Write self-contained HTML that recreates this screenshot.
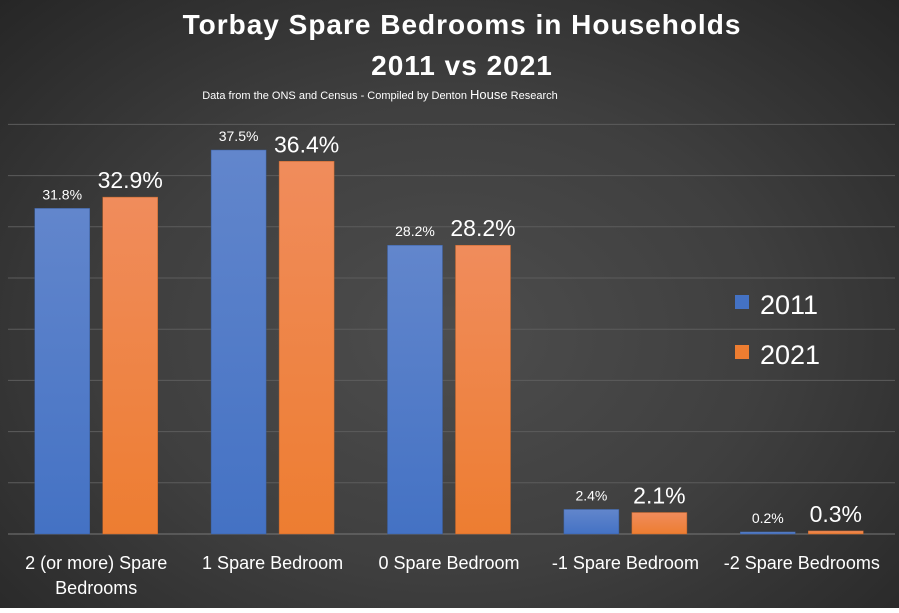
<!DOCTYPE html>
<html><head><meta charset="utf-8"><style>
body{margin:0;width:899px;height:608px;overflow:hidden;font-family:"Liberation Sans",sans-serif;}
#wrap{position:relative;width:899px;height:608px;background:radial-gradient(ellipse at 50% 55%,#4d4d4d 0%,#3f3f3f 50%,#262626 100%);}
</style></head><body>
<div id="wrap">
<svg id="chart" width="899" height="608">
<defs>
<linearGradient id="gb" x1="0" y1="0" x2="0" y2="1"><stop offset="0" stop-color="#6286cc"/><stop offset="1" stop-color="#4472c4"/></linearGradient>
<linearGradient id="go" x1="0" y1="0" x2="0" y2="1"><stop offset="0" stop-color="#f08c5c"/><stop offset="1" stop-color="#ed7d31"/></linearGradient>
</defs>
<text x="462" y="34" text-anchor="middle" fill="#fff" font-size="28" font-weight="bold" letter-spacing="1">Torbay Spare Bedrooms in Households</text>
<text x="462" y="75" text-anchor="middle" fill="#fff" font-size="28" font-weight="bold" letter-spacing="1">2011 vs 2021</text>
<text x="380" y="99" text-anchor="middle" fill="#fff" font-size="11">Data from the ONS and Census - Compiled by Denton <tspan font-size="13">House</tspan> Research</text>
<g id="grid"></g><g id="bars"></g><g id="labels"></g>
<g>
<rect x="735" y="295" width="14" height="14" fill="#4472c4"/>
<text x="760" y="314" fill="#fff" font-size="27">2011</text>
<rect x="735" y="345" width="14" height="14" fill="#ed7d31"/>
<text x="760" y="364" fill="#fff" font-size="27">2021</text>
</g>
</svg>
</div>
<script>
const categories=[["2 (or more) Spare","Bedrooms"],["1 Spare Bedroom"],["0 Spare Bedroom"],["-1 Spare Bedroom"],["-2 Spare Bedrooms"]];
const values2011=[31.8,37.5,28.2,2.4,0.2];
const values2021=[32.9,36.4,28.2,2.1,0.3];
const gridTicks=[5,10,15,20,25,30,35,40];
const NS="http://www.w3.org/2000/svg";
const x0=8,catW=176.4,base=534,ppu=10.24,bw=55,gap=13;
const y=v=>base-v*ppu;
const xc=i=>x0+catW*(i+0.5);
function mk(tag,attrs,parent){const e=document.createElementNS(NS,tag);for(const k in attrs)e.setAttribute(k,attrs[k]);parent.appendChild(e);return e;}
const grid=document.getElementById('grid'),bars=document.getElementById('bars'),labels=document.getElementById('labels');
gridTicks.forEach(t=>{const l=mk('line',{x1:x0,x2:895,y1:y(t),y2:y(t),stroke:'#5c5c5c','stroke-width':1},grid);

});
const ax=mk('line',{x1:x0,x2:895,y1:base,y2:base,stroke:'#777','stroke-width':1},grid);


categories.forEach((c,i)=>{
 const c1=xc(i);
 const bx1=c1-gap/2-bw,bx2=c1+gap/2;
 const b1=mk('rect',{x:bx1,y:y(values2011[i]),width:bw,height:values2011[i]*ppu,fill:'url(#gb)',stroke:'#3a5f9f','stroke-width':0.5},bars);
 
 
 const b2=mk('rect',{x:bx2,y:y(values2021[i]),width:bw,height:values2021[i]*ppu,fill:'url(#go)',stroke:'#c0642a','stroke-width':0.5},bars);
 
 
 const t1=mk('text',{x:bx1+bw/2,y:y(values2011[i])-9,'text-anchor':'middle',fill:'#fff','font-size':14},labels);
 t1.textContent=values2011[i].toFixed(1)+'%';
 
 
 const t2=mk('text',{x:bx2+bw/2,y:y(values2021[i])-9,'text-anchor':'middle',fill:'#fff','font-size':23},labels);
 t2.textContent=values2021[i].toFixed(1)+'%';
 
 
 c.forEach((ln,j)=>{const t=mk('text',{x:c1,y:569+j*25,'text-anchor':'middle',fill:'#fff','font-size':18},labels);
 t.textContent=ln;
 
 });
});
</script>
</body></html>
